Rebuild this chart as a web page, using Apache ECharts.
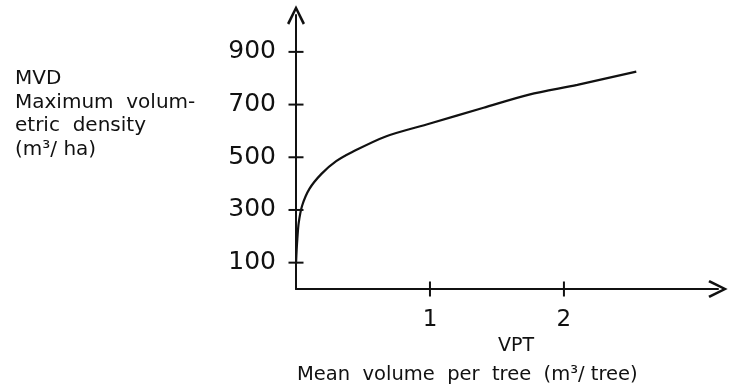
<!DOCTYPE html>
<html>
<head>
<meta charset="utf-8">
<script src="https://cdn.jsdelivr.net/npm/echarts@6/dist/echarts.min.js"></script>
<style>
  html, body { margin: 0; padding: 0; background: #fff; }
  #chart { width: 730px; height: 390px; }
</style>
</head>
<body>
<div id="chart"></div>
<script>
// mean volume per tree (m3/tree) vs maximum volumetric density (m3/ha)
const vpt = [0, 0.005, 0.01, 0.02, 0.045, 0.1, 0.19, 0.3, 0.42, 0.67, 1.0, 1.4, 1.74, 2.1, 2.54];
const mvd = [95, 150, 190, 250, 315, 380, 437, 485, 520, 579, 628, 688, 738, 775, 825];
const yTicks = [100, 300, 500, 700, 900];
const xTicks = [1, 2];
const yTitle = ['MVD', 'Maximum  volum-', 'etric  density', '(m³/ ha)'];
const xTitle = ['VPT', 'Mean  volume  per  tree  (m³/ tree)'];

const FONT = 'DejaVu Sans';
const ink = '#111';
const chevron = 'path://M0,20 L10,0 L20,20 L17.5,21.5 L10,6 L2.5,21.5 Z';

const chart = echarts.init(document.getElementById('chart'));

// the ticks cross the axis lines, so they are drawn as small bars on the tick values
const tickMark = (data, size) => ({
  type: 'scatter',
  data: data,
  symbol: 'rect',
  symbolSize: size,
  clip: false,
  silent: true,
  itemStyle: { color: ink, opacity: 1 },
  z: 3
});

const option = {
  backgroundColor: '#fff',
  animation: false,
  grid: { left: 296, right: 12, top: 15, bottom: 101, containLabel: false },
  xAxis: {
    type: 'value', min: 0, max: 3.15,
    splitLine: { show: false },
    axisLine: { show: true, lineStyle: { color: ink, width: 2 }, symbol: ['none', chevron], symbolSize: [18, 20] },
    axisTick: { show: false },
    axisLabel: { show: true, margin: 20, color: ink, fontFamily: FONT, fontSize: 23, customValues: xTicks }
  },
  yAxis: {
    type: 'value', min: 0, max: 1040,
    splitLine: { show: false },
    axisLine: { show: true, lineStyle: { color: ink, width: 2 }, symbol: ['none', chevron], symbolSize: [18, 20] },
    axisTick: { show: false },
    axisLabel: { show: true, margin: 20, color: ink, fontFamily: FONT, fontSize: 25, customValues: yTicks }
  },
  graphic: [
    ...yTitle.map((t, i) => ({
      type: 'text', left: 15, top: 69 + i * 23.5,
      style: { text: t, fill: ink, fontFamily: FONT, fontSize: 20 }
    })),
    {
      type: 'text', left: 498, top: 337,
      style: { text: xTitle[0], fill: ink, fontFamily: FONT, fontSize: 19 }
    },
    {
      type: 'text', left: 297, top: 365,
      style: { text: xTitle[1], fill: ink, fontFamily: FONT, fontSize: 19.5 }
    }
  ],
  series: [
    {
      type: 'line',
      data: vpt.map((v, i) => [v, mvd[i]]),
      smooth: 0.3,
      showSymbol: false,
      lineStyle: { color: ink, width: 2.2 }
    },
    tickMark(yTicks.map(v => [0, v]), [15, 2]),
    tickMark(xTicks.map(v => [v, 0]), [2, 15])
  ]
};

chart.setOption(option);
</script>
</body>
</html>
